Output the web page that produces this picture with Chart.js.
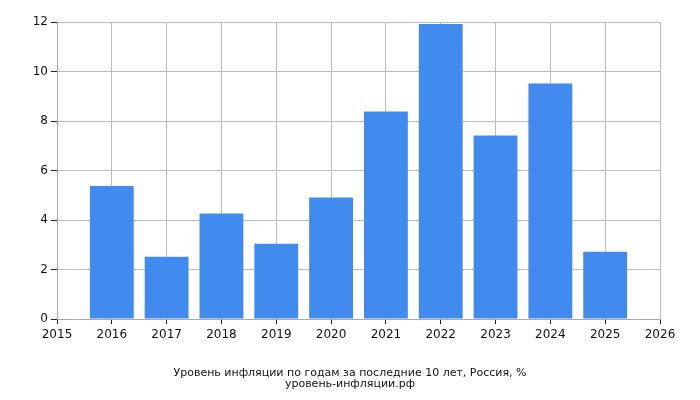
<!DOCTYPE html>
<html>
<head>
<meta charset="utf-8">
<script src="https://cdn.jsdelivr.net/npm/chart.js@4"></script>
<style>
  html, body { margin: 0; padding: 0; background: #fff; }
  #wrap { width: 700px; height: 400px; }
</style>
</head>
<body>
<div id="wrap"><canvas id="inflationChart"></canvas></div>
<script>
const years = [2016, 2017, 2018, 2019, 2020, 2021, 2022, 2023, 2024, 2025];
const inflation = [5.38, 2.52, 4.27, 3.04, 4.91, 8.39, 11.92, 7.42, 9.52, 2.72];
const titleLines = [
  "Уровень инфляции по годам за последние 10 лет, Россия, %",
  "уровень-инфляции.рф"
];

const ctx = document.getElementById("inflationChart").getContext("2d");
new Chart(ctx, {
  type: "bar",
  data: {
    datasets: [{
      data: years.map((y, i) => ({ x: y, y: inflation[i] })),
      backgroundColor: "#428bee",
      borderWidth: 0,
      barPercentage: 1,
      categoryPercentage: 0.8,
    }],
  },
  options: {
    responsive: true,
    maintainAspectRatio: false,
    animation: false,
    layout: { padding: { top: 22, right: 0, left: 0, bottom: 0 } },
    plugins: {
      legend: { display: false },
      tooltip: { enabled: false },
      title: {
        display: true,
        position: "bottom",
        text: titleLines,
        color: "#111",
        font: { family: "DejaVu Sans", size: 11, weight: "normal", lineHeight: 0.95 },
        padding: { top: 0, bottom: 11 },
      },
    },
    scales: {
      x: {
        type: "linear",
        min: 2015,
        max: 2026,
        offset: false,
        afterFit: (scale) => { scale.height = 49; },
        ticks: {
          stepSize: 1,
          color: "#111",
          padding: 4,
          maxRotation: 0,
          font: { family: "DejaVu Sans", size: 12 },
          callback: (v) => String(v),
        },
        grid: { color: "#bbbbbb", tickColor: "#222", tickLength: 5, offset: false },
        border: { color: "#aaaaaa" },
      },
      y: {
        min: 0,
        max: 12,
        afterFit: (scale) => { scale.width = 57; },
        ticks: {
          stepSize: 2,
          color: "#111",
          padding: 3,
          font: { family: "DejaVu Sans", size: 12 },
        },
        grid: { color: "#bbbbbb", tickColor: "#222", tickLength: 6 },
        border: { color: "#aaaaaa" },
      },
      // empty right-hand axis, only reserves the space right of the plot
      yRight: {
        position: "right",
        min: 0,
        max: 12,
        afterFit: (scale) => { scale.width = 40; },
        ticks: { display: false },
        grid: { display: false },
        border: { display: false },
      },
    },
  },
});
</script>
</body>
</html>
